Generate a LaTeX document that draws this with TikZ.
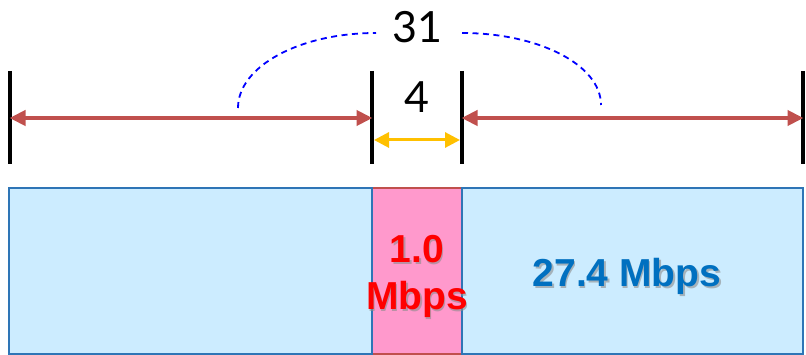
\documentclass[tikz,border=0pt]{standalone}
\usepackage{fontspec}
\setmainfont{Liberation Sans}
\newfontfamily\numfont{Lato}
\usetikzlibrary{arrows.meta}
\definecolor{barred}{HTML}{C0504D}
\definecolor{baryel}{HTML}{FFC000}
\definecolor{boxblue}{HTML}{CCECFF}
\definecolor{boxpink}{HTML}{FF99CC}
\definecolor{edgeblue}{HTML}{2E75B6}
\definecolor{txtblue}{HTML}{0070C0}
\definecolor{arcblue}{HTML}{0000FF}
\tikzset{
  tick/.style={line width=3.5pt, black},
  redarrow/.style={line width=4pt, barred, {Triangle[length=16pt,width=15pt]}-{Triangle[length=16pt,width=15pt]}, shorten <=-0.5pt, shorten >=-0.5pt},
  yelarrow/.style={line width=3pt, baryel, {Triangle[length=15pt,width=15pt]}-{Triangle[length=15pt,width=15pt]}},
  dasharc/.style={arcblue, line width=1.8pt, dash pattern=on 6pt off 4.5pt},
  bluebox/.style={draw=edgeblue, fill=boxblue, line width=1.6pt},
  pinkbox/.style={draw=barred, fill=boxpink, line width=1.2pt},
  numlabel/.style={font=\numfont\fontsize{43}{43}\selectfont, text=black, inner sep=0pt},
  boldlabel/.style={font=\bfseries\fontsize{39}{39}\selectfont, inner sep=0pt, anchor=base},
  shadowlabel/.style={boldlabel, text=black!45, opacity=0.6}
}
\begin{document}
\begin{tikzpicture}[x=1pt,y=-1pt]
\useasboundingbox (0,0) rectangle (806,355);
% coordinates of ticks
\coordinate (t1a) at (10,71);  \coordinate (t1b) at (10,164);
\coordinate (t2a) at (372,71); \coordinate (t2b) at (372,164);
\coordinate (t3a) at (462,71); \coordinate (t3b) at (462,164);
\coordinate (t4a) at (803,71); \coordinate (t4b) at (803,164);
\coordinate (r1) at (10,118);  \coordinate (r2) at (372,118);
\coordinate (r3) at (462,118); \coordinate (r4) at (803,118);
\coordinate (y1) at (374,140); \coordinate (y2) at (460,140);
% boxes
\draw[pinkbox] (372,188) rectangle (462,354);
\draw[bluebox] (9,188) rectangle (372,354);
\draw[bluebox] (462,188) rectangle (803,354);
% ticks
\draw[tick] (t1a) -- (t1b);
\draw[tick] (t2a) -- (t2b);
\draw[tick] (t3a) -- (t3b);
\draw[tick] (t4a) -- (t4b);
% arrows
\draw[redarrow] (r1) -- (r2);
\draw[redarrow] (r3) -- (r4);
\draw[yelarrow] (y1) -- (y2);
% labels
\node[numlabel] (n31) at (417,27) {31};
\node[numlabel] (n4) at (417,97) {4};
\coordinate (al) at (238,108);
\coordinate (ar) at (601,105);
\draw[dasharc] (al) .. controls (238,66.6) and (299,33) .. (376,33);
\draw[dasharc] (462,33) .. controls (539,33) and (ar|-0,65) .. (ar);
% bold texts
\node[shadowlabel] (s10) at (418.5,264.5) {1.0};
\node[shadowlabel] (smb) at (418.5,311.5) {Mbps};
\node[shadowlabel] (s274) at (628.5,288.5) {27.4 Mbps};
\node[boldlabel, text=red] (t10) at (417,263) {1.0};
\node[boldlabel, text=red] (tmb) at (417,310) {Mbps};
\node[boldlabel, text=txtblue] (t274) at (627,287) {27.4 Mbps};
\end{tikzpicture}
\end{document}
